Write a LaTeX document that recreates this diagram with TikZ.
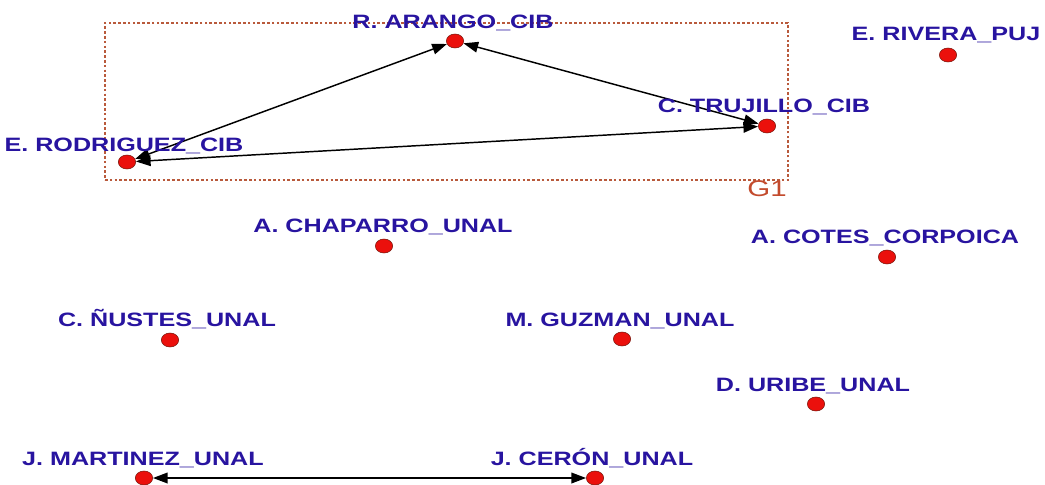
\documentclass[tikz,border=0pt]{standalone}
\usepackage{fontspec}
\newfontfamily\lblfont{Liberation Sans}[FakeStretch=1.3]
\usetikzlibrary{arrows.meta,shapes.geometric}
\definecolor{lblblue}{RGB}{40,20,160}
\definecolor{dotred}{RGB}{235,16,12}
\definecolor{dotedge}{RGB}{120,20,10}
\definecolor{boxred}{RGB}{185,90,60}
\definecolor{gred}{RGB}{195,75,45}
\begin{document}
\begin{tikzpicture}[x=0.75pt,y=-0.75pt,
  dot/.style={ellipse, fill=dotred, draw=dotedge, line width=0.4pt, minimum width=13pt, minimum height=10.5pt, inner sep=0pt},
  lbl/.style={text=lblblue, font=\lblfont\bfseries\fontsize{14.5}{16}\selectfont, inner sep=0pt, anchor=base},
  link/.style={{Triangle[length=11pt,width=8pt]}-{Triangle[length=11pt,width=8pt]}, line width=1.1pt, black},
  grp/.style={draw=boxred, line width=0.9pt, dash pattern=on 2pt off 1.6pt, inner sep=0pt}]
\useasboundingbox (0,0) rectangle (1045,485);
\fill[white] (0,0) rectangle (1045,485);
% group box
\node[grp, minimum width=512.25pt, minimum height=117.75pt] (g1box) at (446.5,101.5) {};
\node[text=gred, font=\lblfont\fontsize{17}{19}\selectfont, inner sep=0pt] (g1) at (767,189) {G1};
% dots
\node[dot] (arango) at (455,41) {};
\node[dot] (trujillo) at (767,126) {};
\node[dot] (rivera) at (948,55) {};
\node[dot] (rodriguez) at (127,162) {};
\node[dot] (chaparro) at (384,246) {};
\node[dot] (cotes) at (887,257) {};
\node[dot] (nustes) at (170,340) {};
\node[dot] (guzman) at (622,339) {};
\node[dot] (uribe) at (816,404) {};
\node[dot] (martinez) at (144,478) {};
\node[dot] (ceron) at (595,478) {};
% edges
\draw[link] (rodriguez) -- (arango);
\draw[link] (arango) -- (trujillo);
\draw[link] (rodriguez) -- (trujillo);
\draw[link] (martinez) -- (ceron);
% labels
\node[lbl] (arango-l) at (453,29) {R. ARANGO\_CIB};
\node[lbl] (trujillo-l) at (764,113) {C. TRUJILLO\_CIB};
\node[lbl] (rivera-l) at (946,41) {E. RIVERA\_PUJ};
\node[lbl] (rodriguez-l) at (124,151) {E. RODRIGUEZ\_CIB};
\node[lbl] (chaparro-l) at (383,232) {A. CHAPARRO\_UNAL};
\node[lbl] (cotes-l) at (885,243) {A. COTES\_CORPOICA};
\node[lbl] (nustes-l) at (167,326) {C. ÑUSTES\_UNAL};
\node[lbl] (guzman-l) at (620,326) {M. GUZMAN\_UNAL};
\node[lbl] (uribe-l) at (813,391) {D. URIBE\_UNAL};
\node[lbl] (martinez-l) at (143,465) {J. MARTINEZ\_UNAL};
\node[lbl] (ceron-l) at (592,465) {J. CERÓN\_UNAL};
\end{tikzpicture}
\end{document}
